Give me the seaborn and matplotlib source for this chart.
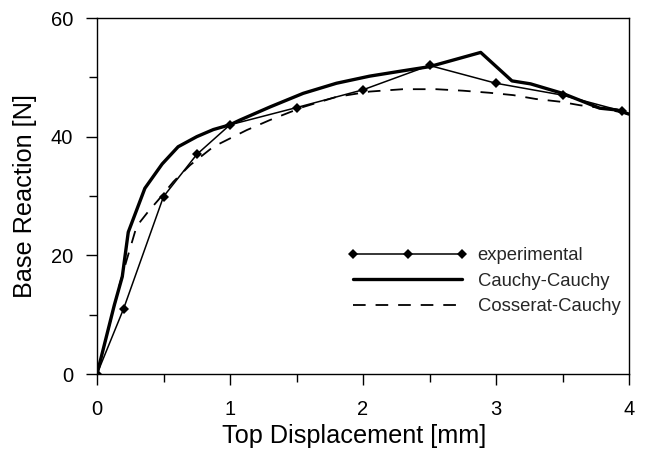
import matplotlib
matplotlib.use("Agg")
import matplotlib.pyplot as plt
from matplotlib.ticker import MultipleLocator
import seaborn as sns

# ---- data ----
exp_x = [0, 0.2, 0.5, 0.75, 1.0, 1.5, 2.0, 2.5, 3.0, 3.5, 3.95]
exp_y = [0, 11.0, 29.9, 37.0, 42.0, 44.9, 47.9, 52.0, 49.0, 47.0, 44.3]

cc_x = [0, 0.13, 0.19, 0.235, 0.36, 0.49, 0.61, 0.75, 0.875, 1.0, 1.075, 1.3,
        1.55, 1.8, 2.05, 2.3, 2.5, 2.885, 3.12, 3.26, 3.5, 3.78, 3.91, 4.0]
cc_y = [0, 11.6, 16.4, 23.9, 31.3, 35.4, 38.3, 40.0, 41.2, 42.0, 42.8, 45.0,
        47.3, 49.0, 50.2, 51.1, 51.8, 54.2, 49.4, 48.9, 47.3, 44.8, 44.5, 43.8]

cs_x = [0, 0.13, 0.173, 0.223, 0.298, 0.386, 0.46, 0.574, 0.7, 0.875, 1.125,
        1.3, 1.55, 1.8, 2.05, 2.3, 2.55, 2.75, 2.95, 3.13, 3.3, 3.48, 3.63,
        3.8, 4.0]
cs_y = [0, 11.5, 15.3, 19.2, 24.9, 27.4, 29.3, 32.4, 35.2, 38.3, 41.1,
        42.8, 45.0, 46.7, 47.6, 48.0, 48.0, 47.75, 47.4, 47.0, 46.35, 45.9, 45.3,
        44.8, 43.8]

labels = ["experimental", "Cauchy-Cauchy", "Cosserat-Cauchy"]
x_label = "Top Displacement [mm]"
y_label = "Base Reaction [N]"

# ---- style ----
sns.set_theme(style="ticks")
plt.rcParams["font.family"] = ["Liberation Sans", "DejaVu Sans"]

fig = plt.figure(figsize=(6.45, 4.49), dpi=100)
ax = fig.add_axes([97 / 645, 1 - 374 / 449, (629 - 97) / 645, (374 - 18) / 449])

sns.lineplot(x=exp_x, y=exp_y, ax=ax, color="black", lw=1.1, marker="D",
             markersize=5.6, markeredgewidth=0, estimator=None, sort=False,
             label=labels[0])
sns.lineplot(x=cc_x, y=cc_y, ax=ax, color="black", lw=2.4, estimator=None,
             sort=False, label=labels[1])
sns.lineplot(x=cs_x, y=cs_y, ax=ax, color="black", lw=1.3,
             linestyle=(0, (7.0, 5.5)), estimator=None, sort=False,
             label=labels[2])

ax.set_xlim(0, 4)
ax.set_ylim(0, 60)
ax.xaxis.set_major_locator(MultipleLocator(1))
ax.xaxis.set_minor_locator(MultipleLocator(0.5))
ax.yaxis.set_major_locator(MultipleLocator(20))
ax.yaxis.set_minor_locator(MultipleLocator(10))
ax.tick_params(which="major", direction="out", length=8, width=1, color="black",
               labelsize=14.5, labelcolor="black", pad=9.2)
ax.tick_params(axis="x", which="major", pad=10.8)
ax.tick_params(which="minor", direction="out", length=5.5, width=1, color="black")
for s in ax.spines.values():
    s.set_visible(True)
    s.set_linewidth(1.0)
    s.set_color("black")

ax.set_xlabel(x_label, fontsize=18.2, color="black")
ax.set_ylabel(y_label, fontsize=18.2, color="black")
ax.xaxis.set_label_coords(0.483, -0.14)
ax.yaxis.set_label_coords(-0.1128, 0.5)

ax.legend(loc="upper left", bbox_to_anchor=(347.8 / 645, 1 - 247 / 449),
          bbox_transform=fig.transFigure, frameon=False, fontsize=13.3,
          numpoints=3, handlelength=6.5, handletextpad=0.53, borderpad=0,
          borderaxespad=0, labelspacing=0.47)

fig.savefig("out.png", dpi=100)
